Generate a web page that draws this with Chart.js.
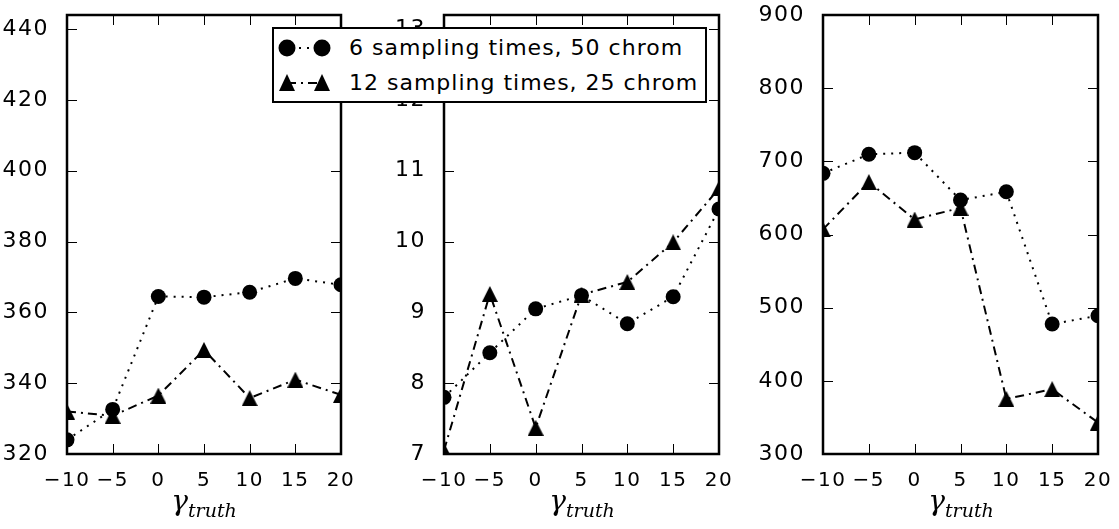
<!DOCTYPE html>
<html>
<head>
<meta charset="utf-8">
<script src="https://cdn.jsdelivr.net/npm/chart.js@4.4.1/dist/chart.umd.min.js"></script>
<style>
  body { margin: 0; background: #fff; }
  #wrap { position: relative; width: 1119px; height: 529px; overflow: hidden; }
  #wrap canvas { position: absolute; top: 0; }
  .xlab { position: absolute; top: 487px; transform: translateX(-50%); font-family: "DejaVu Serif"; font-style: italic; line-height: 28px; white-space: nowrap; color: #000; }
  .xlab .g { font-size: 28px; }
  .xlab sub { font-size: 19px; vertical-align: -7px; }
  #legend { position: absolute; left: 272px; top: 27px; width: 435px; height: 76px; box-sizing: border-box; border: 2px solid #000; background: #fff; z-index: 5; font-family: "DejaVu Sans"; }
  #legend svg { position: absolute; left: 0; }
  #legend span { position: absolute; left: 75px; font-size: 22px; letter-spacing: 1px; line-height: 24px; white-space: nowrap; color: #000; }
</style>
</head>
<body>
<div id="wrap">
  <canvas id="c1" width="360" height="529" style="left:1px"></canvas>
  <canvas id="c2" width="361" height="529" style="left:378px"></canvas>
  <canvas id="c3" width="361" height="529" style="left:757px"></canvas>

  <div class="xlab" style="left:204px"><span class="g">γ</span><sub>truth</sub></div>
  <div class="xlab" style="left:582px"><span class="g">γ</span><sub>truth</sub></div>
  <div class="xlab" style="left:961px"><span class="g">γ</span><sub>truth</sub></div>

  <div id="legend">
    <svg width="70" height="20" style="top:9px">
      <line x1="13" y1="10" x2="48" y2="10" stroke="#000" stroke-width="2" stroke-dasharray="2 6" stroke-dashoffset="-4"/>
      <circle cx="13" cy="10" r="8.5" fill="#000"/>
      <circle cx="48" cy="10" r="8.5" fill="#000"/>
    </svg>
    <span id="lab0" style="top:7px"></span>
    <svg width="70" height="20" style="top:44px">
      <line x1="13" y1="10" x2="48" y2="10" stroke="#000" stroke-width="2" stroke-dasharray="9 5 2 5"/>
      <polygon points="5,18 13,1 21,18" fill="#000"/>
      <polygon points="40,18 48,1 56,18" fill="#000"/>
    </svg>
    <span id="lab1" style="top:42px"></span>
  </div>
</div>

<script>
const gamma = [-10, -5, 0, 5, 10, 15, 20];
const xTicks = [-10, -5, 0, 5, 10, 15, 20];
const xTickLabels = ["−10", "−5", "0", "5", "10", "15", "20"];
const seriesNames = ["6 sampling times, 50 chrom", "12 sampling times, 25 chrom"];

// left panel
const left6 = [324.0, 332.6, 364.5, 364.3, 365.7, 369.6, 367.8];
const left12 = [332.0, 330.8, 336.5, 349.4, 335.8, 341.0, 336.7];
const leftTicks = [320, 340, 360, 380, 400, 420, 440];
const leftRange = [320, 444];

// middle panel
const mid6 = [7.80, 8.43, 9.05, 9.24, 8.84, 9.22, 10.46];
const mid12 = [7.05, 9.26, 7.37, 9.25, 9.43, 9.99, 10.75];
const midTicks = [7, 8, 9, 10, 11, 12, 13];
const midRange = [7, 13.2];

// right panel
const right6 = [683.6, 709.6, 711.9, 647.0, 658.4, 477.6, 489.0];
const right12 = [607.0, 671.7, 620.5, 636.5, 375.3, 388.6, 343.0];
const rightTicks = [300, 400, 500, 600, 700, 800, 900];
const rightRange = [300, 900];

Chart.defaults.font.family = "DejaVu Sans";
Chart.defaults.color = "#000";

document.getElementById("lab0").textContent = seriesNames[0];
document.getElementById("lab1").textContent = seriesNames[1];

// matplotlib style "^" marker, centred on its bounding box
function triangleMarker(size) {
  const c = document.createElement("canvas");
  c.width = size;
  c.height = size;
  const g = c.getContext("2d");
  g.beginPath();
  g.moveTo(size / 2, 0);
  g.lineTo(size, size);
  g.lineTo(0, size);
  g.closePath();
  g.fillStyle = "#000";
  g.fill();
  return c;
}
const tri = triangleMarker(16);

// wider lettering for the tick labels
const spacing = {
  id: "spacing",
  beforeDraw(chart) {
    chart.ctx.letterSpacing = "1.5px";
  },
};

// box around the plot + inward ticks on all four sides
const frame = {
  id: "frame",
  afterDatasetsDraw(chart) {
    const { ctx, chartArea: a, scales } = chart;
    const x = scales.x, y = scales.y;
    ctx.save();
    ctx.strokeStyle = "#000";
    ctx.lineWidth = 1;
    ctx.beginPath();
    x.ticks.forEach((t) => {
      const px = Math.round(x.getPixelForValue(t.value)) + 0.5;
      ctx.moveTo(px, a.bottom);
      ctx.lineTo(px, a.bottom - 10);
      ctx.moveTo(px, a.top);
      ctx.lineTo(px, a.top + 10);
    });
    y.ticks.forEach((t) => {
      const py = Math.round(y.getPixelForValue(t.value)) + 0.5;
      ctx.moveTo(a.left, py);
      ctx.lineTo(a.left + 10, py);
      ctx.moveTo(a.right, py);
      ctx.lineTo(a.right - 10, py);
    });
    ctx.stroke();
    ctx.lineWidth = 2.5;
    ctx.strokeRect(a.left, a.top, a.right - a.left, a.bottom - a.top);
    ctx.restore();
  },
};

function makeChart(id, six, twelve, yTicks, yRange) {
  return new Chart(document.getElementById(id), {
    type: "line",
    data: {
      datasets: [
        {
          label: seriesNames[0],
          data: gamma.map((g, i) => ({ x: g, y: six[i] })),
          borderColor: "#000",
          backgroundColor: "#000",
          borderWidth: 2,
          borderDash: [2, 6],
          pointStyle: "circle",
          pointRadius: 7.5,
          pointBorderWidth: 0,
          tension: 0,
          clip: 0,
        },
        {
          label: seriesNames[1],
          data: gamma.map((g, i) => ({ x: g, y: twelve[i] })),
          borderColor: "#000",
          backgroundColor: "#000",
          borderWidth: 2,
          borderDash: [9, 5, 2, 5],
          pointStyle: tri,
          pointRadius: 8,
          pointBorderWidth: 0,
          tension: 0,
          clip: 0,
        },
      ],
    },
    options: {
      responsive: false,
      animation: false,
      events: [],
      layout: { padding: { top: 15, right: 20, left: 0, bottom: 0 } },
      plugins: { legend: { display: false }, tooltip: { enabled: false } },
      scales: {
        x: {
          type: "linear",
          min: -10,
          max: 20,
          grid: { display: false },
          border: { display: false },
          afterBuildTicks: (s) => {
            s.ticks = xTicks.map((v) => ({ value: v }));
          },
          afterFit: (s) => {
            s.height = 75;
            s.paddingLeft = 0;
            s.paddingRight = 0;
          },
          ticks: {
            font: { size: 20 },
            color: "#000",
            padding: 7,
            maxRotation: 0,
            autoSkip: false,
            callback: (v, i) => xTickLabels[i],
          },
        },
        y: {
          min: yRange[0],
          max: yRange[1],
          grid: { display: false },
          border: { display: false },
          afterBuildTicks: (s) => {
            s.ticks = yTicks.map((v) => ({ value: v }));
          },
          afterFit: (s) => {
            s.width = 66;
            s.paddingTop = 0;
            s.paddingBottom = 0;
          },
          ticks: {
            font: { size: 22 },
            color: "#000",
            padding: 10,
            autoSkip: false,
          },
        },
      },
    },
    plugins: [spacing, frame],
  });
}

makeChart("c1", left6, left12, leftTicks, leftRange);
makeChart("c2", mid6, mid12, midTicks, midRange);
makeChart("c3", right6, right12, rightTicks, rightRange);
</script>
</body>
</html>
